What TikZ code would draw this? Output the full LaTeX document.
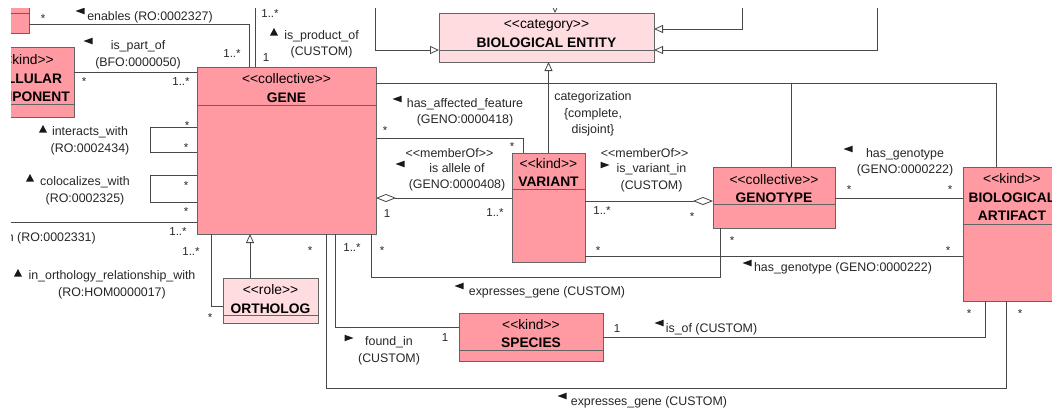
\documentclass[tikz,border=0pt]{standalone}
\usepackage{fontspec}
\setmainfont{Liberation Sans}
\usetikzlibrary{arrows.meta}

\definecolor{classpink}{RGB}{255,153,162}
\definecolor{catpink}{RGB}{255,220,224}
\definecolor{edgegray}{RGB}{72,72,72}
\definecolor{boxgray}{RGB}{100,100,100}

\newcommand\lblfont{\fontsize{12.4pt}{16.5pt}\selectfont}
\newcommand\ttlfont{\fontsize{13.8pt}{18.5pt}\selectfont}
\newcommand\mulfont{\fontsize{11.5pt}{14pt}\selectfont}
% stereotype brackets, kept apart so no ligature forms
\newcommand\stereo[1]{<\kern0pt<#1>\kern0pt>}

% class box: name, x1, y1, x2, y2, divider y, fill colour
\newcommand\umlclass[7]{%
  \node[classbox, fill=#7, minimum width={(#4)-(#2)}, minimum height={(#5)-(#3)}]
    (#1) at ({((#2)+(#4))/2},{((#3)+(#5))/2}) {};
  \draw[boxline] (#1.west |- 0,#6) -- (#1.east |- 0,#6);
}
% small direction markers of the association names
\newcommand\dirL[2]{\fill[marker] ({#1-4.5},{#2}) -- ({#1+4.5},{#2-3.3}) -- ({#1+4.5},{#2+3.3}) -- cycle;}
\newcommand\dirR[2]{\fill[marker] ({#1+4.5},{#2}) -- ({#1-4.5},{#2-3.3}) -- ({#1-4.5},{#2+3.3}) -- cycle;}
\newcommand\dirU[2]{\fill[marker] ({#1},{#2-4}) -- ({#1+4},{#2+3.5}) -- ({#1-4},{#2+3.5}) -- cycle;}

\begin{document}
\begin{tikzpicture}[x=1pt, y=-1pt,
  classbox/.style={draw=boxgray, line width=0.8pt, inner sep=0pt, outer sep=0pt},
  boxline/.style={draw=boxgray, line width=0.8pt},
  ctitle/.style={font=\ttlfont, align=center, inner sep=0pt},
  conn/.style={draw=edgegray, line width=0.8pt},
  trunk/.style={draw=edgegray, line width=1.6pt},
  gen/.style={-{Triangle[open, length=9pt, width=8pt, line width=0.8pt, fill=white]}},
  genbig/.style={-{Triangle[open, length=13pt, width=12pt, line width=0.8pt, fill=white]}},
  agg/.style={{Diamond[open, length=20pt, width=8pt, line width=0.8pt, fill=white]}-},
  aggend/.style={-{Diamond[open, length=20pt, width=8pt, line width=0.8pt, fill=white]}},
  lab/.style={font=\lblfont, inner sep=0pt, anchor=base, yshift=-4.5pt, text=black!85},
  labm/.style={font=\lblfont, inner sep=0pt, align=center, yshift=-1pt, text=black!85},
  mult/.style={font=\mulfont, inner sep=0pt, anchor=base, yshift=-4.5pt, text=black!85},
  mstar/.style={font=\mulfont, inner sep=0pt, anchor=base, yshift=-7pt, text=black!85},
  marker/.style={fill=black!90}
]
\useasboundingbox (0,0) rectangle (1052,410);
\begin{scope}
\clip (11,8) rectangle (1052,410);

% ---------- classes ----------
\umlclass{smallbox}{-40}{-10}{29}{33}{13}{classpink}
\umlclass{cellular}{-24}{47}{74}{117}{104}{classpink}
\umlclass{gene}{197}{67}{376}{234}{105}{classpink}
\umlclass{bioentity}{439}{13}{654}{62}{50}{catpink}
\umlclass{variant}{512}{153}{585}{262}{189}{classpink}
\umlclass{genotype}{713}{167}{835}{228}{204}{classpink}
\umlclass{artifact}{963}{167}{1061}{301}{224}{classpink}
\umlclass{ortholog}{223}{278}{318}{323}{315}{catpink}
\umlclass{species}{459}{313}{603}{361}{350}{classpink}

\node[ctitle] (cellular-t) at (25,78.5) {\stereo{kind}\\\textbf{CELLULAR}\\\textbf{COMPONENT}};
\node[ctitle] (gene-t) at (286.5,88) {\stereo{collective}\\\textbf{GENE}};
\node[ctitle] (bioentity-t) at (546.5,33.5) {\stereo{category}\\\textbf{BIOLOGICAL ENTITY}};
\node[ctitle] (variant-t) at (548.5,172.5) {\stereo{kind}\\\textbf{VARIANT}};
\node[ctitle] (genotype-t) at (774,188.5) {\stereo{collective}\\\textbf{GENOTYPE}};
\node[ctitle] (artifact-t) at (1012,197.5) {\stereo{kind}\\\textbf{BIOLOGICAL}\\\textbf{ARTIFACT}};
\node[ctitle] (ortholog-t) at (270.5,299) {\stereo{role}\\\textbf{ORTHOLOG}};
\node[ctitle] (species-t) at (531,333.5) {\stereo{kind}\\\textbf{SPECIES}};

% ---------- bend points and connector levels ----------
\coordinate (enb) at (249,24);
\coordinate (prod) at (255,-5);
\coordinate (part) at (0,72);
\coordinate (iwA) at (150,127);
\coordinate (iwB) at (150,152);
\coordinate (clA) at (150,175);
\coordinate (clB) at (150,202);
\coordinate (inv) at (-5,222);
\coordinate (haf) at (523,138);
\coordinate (busR) at (996,83);
\coordinate (busG) at (791,83);
\coordinate (all) at (0,198);
\coordinate (vin) at (0,201);
\coordinate (hgA) at (0,198);
\coordinate (hgB) at (0,256);
\coordinate (exA) at (371,277);
\coordinate (exB) at (720,277);
\coordinate (fin) at (335,327);
\coordinate (elA) at (326,388);
\coordinate (elB) at (1006,388);
\coordinate (iso) at (985,337);
\coordinate (orth) at (211,306);
\coordinate (ogen) at (250,0);
\coordinate (inL) at (375,-5);
\coordinate (inLb) at (375,50);
\coordinate (inRa) at (742,-5);
\coordinate (inRab) at (742,29);
\coordinate (inRb) at (877,-5);
\coordinate (inRbb) at (877,50);
\coordinate (inT) at (555,-5);

% ---------- associations ----------
\draw[conn] (smallbox.east |- enb) -- (enb) -- (enb |- gene.north);
\draw[conn] (prod) -- (prod |- gene.north);
\draw[conn] (cellular.east |- part) -- (gene.west |- part);
\draw[conn] (gene.west |- iwA) -- (iwA) -- (iwB) -- (gene.west |- iwB);
\draw[conn] (gene.west |- clA) -- (clA) -- (clB) -- (gene.west |- clB);
\draw[conn] (inv) -- (gene.west |- inv);
\draw[conn] (gene.east |- haf) -- (haf) -- (haf |- variant.north);
\draw[conn, agg] (gene.east |- all) -- (variant.west |- all);
\draw[conn, aggend] (variant.east |- vin) -- (genotype.west |- vin);
\draw[conn] (genotype.east |- hgA) -- (artifact.west |- hgA);
\draw[conn] (variant.east |- hgB) -- (artifact.west |- hgB);
\draw[conn] (exA |- gene.south) -- (exA) -- (exB) -- (exB |- genotype.south);
\draw[conn] (fin |- gene.south) -- (fin) -- (species.west |- fin);
\draw[conn] (elA |- gene.south) -- (elA) -- (elB) -- (elB |- artifact.south);
\draw[conn] (species.east |- iso) -- (iso) -- (iso |- artifact.south);
\draw[conn] (orth |- gene.south) -- (orth) -- (ortholog.west |- orth);

% ---------- generalizations ----------
\draw[conn] (gene.east |- busR) -- (busR) -- (busR |- artifact.north);
\draw[conn] (busG) -- (busG |- genotype.north);
\draw[conn] (variant.north) -- (variant.north |- busR);
\draw[trunk, gen] (variant.north |- busR) -- (variant.north |- bioentity.south);
\draw[conn, gen] (ogen |- ortholog.north) -- (ogen |- gene.south);
\draw[conn, gen] (inL) -- (inLb) -- (bioentity.west |- inLb);
\draw[conn, gen] (inRa) -- (inRab) -- (bioentity.east |- inRab);
\draw[conn, gen] (inRb) -- (inRbb) -- (bioentity.east |- inRbb);
\draw[conn, genbig] (inT) -- (inT |- bioentity.north);

% ---------- association names ----------
\node[lab] (l-enables) at (150,16) {enables (RO:0002327)};
\node[labm] (l-product) at (321.5,43.5) {is\_product\_of\\(CUSTOM)};
\node[labm] (l-partof) at (138,54) {is\_part\_of\\(BFO:0000050)};
\node[labm] (l-interacts) at (90,140) {interacts\_with\\(RO:0002434)};
\node[labm] (l-coloc) at (85,190) {colocalizes\_with\\(RO:0002325)};
\node[lab, anchor=base east] (l-involved) at (96,237) {involved\_in (RO:0002331)};
\node[labm] (l-ortho) at (112,284) {in\_orthology\_relationship\_with\\(RO:HOM0000017)};
\node[labm] (l-affected) at (465,111.5) {has\_affected\_feature\\(GENO:0000418)};
\node[labm] (l-categ) at (593,113) {categorization\\\{complete,\\disjoint\}};
\node[lab] (l-memberA) at (449.5,153) {\stereo{memberOf}};
\node[labm] (l-allele) at (457,176.5) {is allele of\\(GENO:0000408)};
\node[lab] (l-memberB) at (644.7,153) {\stereo{memberOf}};
\node[labm] (l-variantin) at (651.5,177) {is\_variant\_in\\(CUSTOM)};
\node[labm] (l-genotypeA) at (905,161.5) {has\_genotype\\(GENO:0000222)};
\node[lab] (l-genotypeB) at (843,267) {has\_genotype (GENO:0000222)};
\node[lab] (l-exprA) at (547,291) {expresses\_gene (CUSTOM)};
\node[labm] (l-found) at (389,350) {found\_in\\(CUSTOM)};
\node[lab] (l-isof) at (711.5,328) {is\_of (CUSTOM)};
\node[lab] (l-exprB) at (649,401) {expresses\_gene (CUSTOM)};

% reading direction markers
\dirL{80}{11}
\dirU{274}{32}
\dirL{88}{41}
\dirU{43}{129}
\dirU{30}{178}
\dirU{18}{273}
\dirL{397}{99}
\dirL{400}{164}
\dirR{605}{165}
\dirL{848}{149}
\dirL{747}{263}
\dirL{459}{286}
\dirR{349}{338}
\dirL{659}{323}
\dirL{562}{396}

% ---------- multiplicities ----------
\node[mstar] (m1) at (43,15) {*};
\node[mult] (m2) at (232,53) {1..*};
\node[mult] (m3) at (270,13) {1..*};
\node[mult] (m4) at (266,57) {1};
\node[mstar] (m5) at (84,78) {*};
\node[mult] (m6) at (181,81) {1..*};
\node[mstar] (m7) at (187,122) {*};
\node[mstar] (m8) at (186,144) {*};
\node[mstar] (m9) at (186,182) {*};
\node[mstar] (m10) at (186,208) {*};
\node[mult] (m11) at (178,231) {1..*};
\node[mult] (m12) at (191,251) {1..*};
\node[mstar] (m13) at (210,314) {*};
\node[mstar] (m14) at (310,247) {*};
\node[mult] (m15) at (352,247) {1..*};
\node[mstar] (m16) at (382,247) {*};
\node[mstar] (m17) at (385,127) {*};
\node[mstar] (m18) at (512,143) {*};
\node[mult] (m19) at (387,213) {1};
\node[mult] (m20) at (495,212) {1..*};
\node[mult] (m21) at (602,210) {1..*};
\node[mstar] (m22) at (692,213) {*};
\node[mstar] (m23) at (849,186) {*};
\node[mstar] (m24) at (950,186) {*};
\node[mstar] (m25) at (598,247) {*};
\node[mstar] (m26) at (948,247) {*};
\node[mstar] (m27) at (732,237) {*};
\node[mult] (m28) at (445,337) {1};
\node[mult] (m29) at (617,328) {1};
\node[mstar] (m30) at (969,310) {*};
\node[mstar] (m31) at (1020,310) {*};
\end{scope}
\end{tikzpicture}
\end{document}
